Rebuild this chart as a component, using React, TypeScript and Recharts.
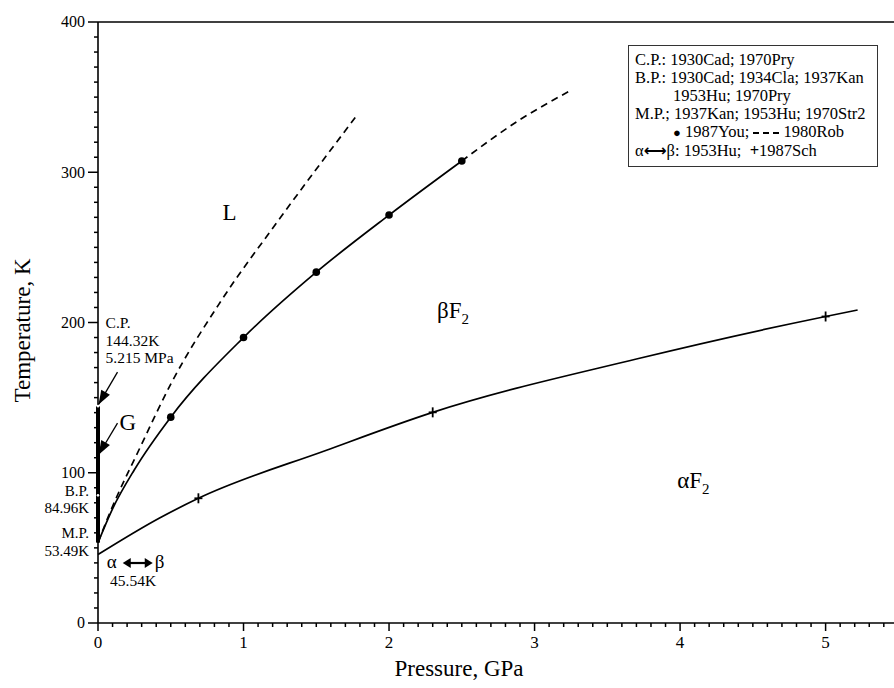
import React from 'react';
import { ComposedChart, Line, Scatter, XAxis, YAxis, ReferenceDot, Label } from 'recharts';

const FONT = '"Liberation Serif", "Times New Roman", Times, serif';

// Melting curve, 1987You (solid)
const meltPressure = [0, 0.1, 0.25, 0.5, 1.0, 1.5, 2.0, 2.5];
const meltTemp = [53.49, 76, 102, 137, 190, 233.5, 271.5, 307.5];
// Melting curve extension (dashed)
const meltExtPressure = [2.5, 2.9, 3.25];
const meltExtTemp = [307.5, 335, 354.5];
// 1980Rob (dashed)
const robPressure = [0, 0.08, 0.3, 0.5, 0.85, 1.24, 1.78];
const robTemp = [53.49, 73, 119, 159, 215, 268, 338];
// alpha <-> beta transition line
const abPressure = [0, 0.42, 0.69, 1.57, 2.3, 3.7, 5.0, 5.22];
const abTemp = [45.54, 69.7, 83, 115, 140.2, 175.7, 204, 208.3];
// 1987You points
const youPressure = [0.5, 1.0, 1.5, 2.0, 2.5];
const youTemp = [137, 190, 233.5, 271.5, 307.5];
// 1987Sch points
const schPressure = [0.69, 2.3, 5.0];
const schTemp = [83, 140.2, 204];
// Liquid-gas line (low pressure)
const vaporPressure = [0, 0];
const vaporTemp = [53.49, 144.32];
// special points on the vapour line
const markPressure = [0, 0];
const markTemp = [144.32, 84.96];
// arrows (start -> tip)
const cpArrowPressure = [0.134, 0.004];
const cpArrowTemp = [167, 145.5];
const gArrowPressure = [0.134, 0.004];
const gArrowTemp = [133, 112];

const xTicks = Array.from({ length: 55 }, (_, i) => i / 10);
const yTicks = Array.from({ length: 41 }, (_, i) => i * 10);

const zip = (ps: number[], ts: number[]) => ps.map((p, i) => ({ p, t: ts[i] }));

const BottomTick = (props: any) => {
  const { x, y, payload } = props;
  const v = payload.value;
  const major = Math.abs(v - Math.round(v)) < 1e-6;
  return (
    <g>
      <line x1={x} x2={x} y1={y} y2={y + (major ? 8 : 4)} stroke="#000" strokeWidth={1.5} />
      {major && (
        <text x={x} y={y + 25} textAnchor="middle" fontSize={17} fontFamily={FONT} fill="#000">
          {Math.round(v)}
        </text>
      )}
    </g>
  );
};

const TopTick = (props: any) => {
  const { x, y, payload } = props;
  const v = payload.value;
  const major = Math.abs(v - Math.round(v)) < 1e-6;
  return <line x1={x} x2={x} y1={y} y2={y - (major ? 9 : 5)} stroke="#000" strokeWidth={1.5} />;
};

const LeftTick = (props: any) => {
  const { x, y, payload } = props;
  const v = payload.value;
  const major = v % 100 === 0;
  return (
    <g>
      <line x1={x - (major ? 10 : 4)} x2={x} y1={y} y2={y} stroke="#000" strokeWidth={1.5} />
      {major && (
        <text x={x - 13} y={y} dy="0.33em" textAnchor="end" fontSize={16} fontFamily={FONT} fill="#000">
          {v}
        </text>
      )}
    </g>
  );
};

const ArrowHead = (props: any) => {
  const { cx, cy } = props;
  const ang = (120 * Math.PI) / 180;
  const ux = Math.cos(ang);
  const uy = Math.sin(ang);
  const L = 14;
  const W = 5;
  const bx = cx - ux * L;
  const by = cy - uy * L;
  const px = -uy;
  const py = ux;
  return (
    <polygon
      points={`${cx},${cy} ${bx + px * W},${by + py * W} ${bx - px * W},${by - py * W}`}
      fill="#000"
    />
  );
};

const PlusMark = (props: any) => {
  const { cx, cy } = props;
  return (
    <g stroke="#000" strokeWidth={1.8}>
      <line x1={cx - 4} x2={cx + 4} y1={cy} y2={cy} />
      <line x1={cx} x2={cx} y1={cy - 5} y2={cy + 5} />
    </g>
  );
};

const DotMark = (props: any) => <circle cx={props.cx} cy={props.cy} r={3.8} fill="#000" />;
const WhiteMark = (props: any) => <circle cx={props.cx} cy={props.cy} r={1.3} fill="#fff" />;

type Note = { p: number; t: number; lines: string[]; anchor: 'start' | 'end' | 'middle'; size: number };

const notes: Note[] = [
  { p: 0.052, t: 196.3, lines: ['C.P.', '144.32K', '5.215 MPa'], anchor: 'start', size: 15.5 },
  { p: 0, t: 84.6, lines: ['B.P.', '84.96K'], anchor: 'end', size: 15 },
  { p: 0, t: 56.3, lines: ['M.P.', '53.49K'], anchor: 'end', size: 15 },
  { p: 0.083, t: 24.6, lines: ['45.54K'], anchor: 'start', size: 15.5 },
];

const NoteText = (n: Note) => (props: any) => {
  const x = props.cx + (n.anchor === 'end' ? -9 : 0);
  return (
    <text x={x} y={props.cy} textAnchor={n.anchor} fontSize={n.size} fontFamily={FONT} fill="#000">
      {n.lines.map((l, i) => (
        <tspan key={i} x={x} dy={i === 0 ? 0 : 17.5}>
          {l}
        </tspan>
      ))}
    </text>
  );
};

const PhaseLabel = (label: string, sub?: string) => (props: any) => (
  <text x={props.cx} y={props.cy} fontSize={23} fontFamily={FONT} fill="#000" textAnchor="start">
    {label}
    {sub && (
      <tspan fontSize={15} dy={6}>
        {sub}
      </tspan>
    )}
  </text>
);

const AlphaBeta = (props: any) => {
  const { cx, cy } = props;
  const y0 = cy - 5;
  const a0 = cx + 16;
  const a1 = cx + 46;
  return (
    <g>
      <text x={cx} y={cy} fontSize={19} fontFamily={FONT} fill="#000">α</text>
      <line x1={a0 + 5} x2={a1 - 5} y1={y0} y2={y0} stroke="#000" strokeWidth={2.2} />
      <polygon points={`${a0},${y0} ${a0 + 8},${y0 - 5} ${a0 + 8},${y0 + 5}`} fill="#000" />
      <polygon points={`${a1},${y0} ${a1 - 8},${y0 - 5} ${a1 - 8},${y0 + 5}`} fill="#000" />
      <text x={a1 + 2} y={cy} fontSize={19} fontFamily={FONT} fill="#000">β</text>
    </g>
  );
};

const common = {
  xAxisId: 'b',
  yAxisId: 'l',
  isAnimationActive: false,
} as const;

export default function App() {
  return (
    <div style={{ position: 'absolute', left: 0, top: 0, width: 894, height: 688, background: '#fff', overflow: 'hidden' }}>
      <ComposedChart width={894} height={688} margin={{ top: 12, right: 0, bottom: 0, left: 0 }}>
        <XAxis
          xAxisId="b"
          type="number"
          dataKey="p"
          domain={[0, 5.47]}
          ticks={xTicks}
          interval={0}
          tickSize={0}
          tickMargin={0}
          tickLine={false}
          tick={<BottomTick />}
          height={65}
          axisLine={{ stroke: '#000', strokeWidth: 1.6 }}
        >
          <Label
            content={(lp: any) => {
              const vb = lp.viewBox;
              return (
                <text x={vb.x + vb.width / 2 - 37} y={vb.y + 53} textAnchor="middle" fontSize={23} fontFamily={FONT} fill="#000">
                  Pressure, GPa
                </text>
              );
            }}
          />
        </XAxis>
        <XAxis
          xAxisId="t"
          orientation="top"
          type="number"
          dataKey="p"
          domain={[0, 5.47]}
          ticks={xTicks}
          interval={0}
          tickSize={0}
          tickMargin={0}
          tickLine={false}
          tick={<TopTick />}
          height={10}
          axisLine={{ stroke: '#000', strokeWidth: 1.6 }}
        />
        <YAxis
          yAxisId="l"
          type="number"
          domain={[0, 400]}
          ticks={yTicks}
          interval={0}
          tickSize={0}
          tickMargin={0}
          tickLine={false}
          tick={<LeftTick />}
          width={98}
          axisLine={{ stroke: '#000', strokeWidth: 1.6 }}
        >
          <Label
            content={(lp: any) => {
              const vb = lp.viewBox;
              const cx = vb.x + 30;
              const cy = vb.y + vb.height / 2 + 8;
              return (
                <text transform={`translate(${cx}, ${cy}) rotate(-90)`} textAnchor="middle" fontSize={23} fontFamily={FONT} fill="#000">
                  Temperature, K
                </text>
              );
            }}
          />
        </YAxis>

        <Line {...common} data={zip(vaporPressure, vaporTemp)} dataKey="t" type="linear" stroke="#000" strokeWidth={4} dot={false} activeDot={false} />
        <Line {...common} data={zip(abPressure, abTemp)} dataKey="t" type="monotone" stroke="#000" strokeWidth={1.7} dot={false} activeDot={false} />
        <Line {...common} data={zip(meltPressure, meltTemp)} dataKey="t" type="monotone" stroke="#000" strokeWidth={1.7} dot={false} activeDot={false} />
        <Line {...common} data={zip(meltExtPressure, meltExtTemp)} dataKey="t" type="monotone" stroke="#000" strokeWidth={1.7} strokeDasharray="7 5" dot={false} activeDot={false} />
        <Line {...common} data={zip(robPressure, robTemp)} dataKey="t" type="monotone" stroke="#000" strokeWidth={1.7} strokeDasharray="7 5" dot={false} activeDot={false} />
        <Line {...common} data={zip(cpArrowPressure, cpArrowTemp)} dataKey="t" type="linear" stroke="#000" strokeWidth={1.3} dot={false} activeDot={false} />
        <Line {...common} data={zip(gArrowPressure, gArrowTemp)} dataKey="t" type="linear" stroke="#000" strokeWidth={1.3} dot={false} activeDot={false} />

        <Scatter {...common} data={zip(youPressure, youTemp)} dataKey="t" shape={<DotMark />} />
        <Scatter {...common} data={zip(schPressure, schTemp)} dataKey="t" shape={<PlusMark />} />
        <Scatter {...common} data={zip(markPressure, markTemp)} dataKey="t" shape={<WhiteMark />} />
        <Scatter {...common} data={[{ p: cpArrowPressure[1], t: cpArrowTemp[1] }, { p: gArrowPressure[1], t: gArrowTemp[1] }]} dataKey="t" shape={<ArrowHead />} />

        {notes.map((n, i) => (
          <ReferenceDot key={i} xAxisId="b" yAxisId="l" x={n.p} y={n.t} r={0} ifOverflow="visible" shape={NoteText(n)} />
        ))}
        <ReferenceDot xAxisId="b" yAxisId="l" x={0.06} y={36.6} r={0} ifOverflow="visible" shape={AlphaBeta} />
        <ReferenceDot xAxisId="b" yAxisId="l" x={0.148} y={128.5} r={0} ifOverflow="visible" shape={PhaseLabel('G')} />
        <ReferenceDot xAxisId="b" yAxisId="l" x={0.856} y={268} r={0} ifOverflow="visible" shape={PhaseLabel('L')} />
        <ReferenceDot xAxisId="b" yAxisId="l" x={2.33} y={203} r={0} ifOverflow="visible" shape={PhaseLabel('βF', '2')} />
        <ReferenceDot xAxisId="b" yAxisId="l" x={3.98} y={90} r={0} ifOverflow="visible" shape={PhaseLabel('αF', '2')} />
      </ComposedChart>

      <div
        style={{
          position: 'absolute',
          left: 628,
          top: 45,
          width: 237,
          padding: '5px 5px 6px 6px',
          border: '1.5px solid #333',
          fontFamily: FONT,
          fontSize: 16.5,
          lineHeight: '18px',
          color: '#000',
          background: '#fff',
          whiteSpace: 'pre',
        }}
      >
        <div>C.P.: 1930Cad; 1970Pry</div>
        <div>B.P.: 1930Cad; 1934Cla; 1937Kan</div>
        <div style={{ paddingLeft: 38 }}>1953Hu; 1970Pry</div>
        <div>M.P.; 1937Kan; 1953Hu; 1970Str2</div>
        <div style={{ paddingLeft: 38 }}>
          <span style={{ fontSize: 13 }}>●</span> 1987You;{' '}
          <svg width={26} height={6} style={{ verticalAlign: 'middle' }}>
            <line x1={0} x2={26} y1={3} y2={3} stroke="#000" strokeWidth={2} strokeDasharray="6 4" />
          </svg>{' '}
          1980Rob
        </div>
        <div>α<span style={{ fontFamily: '"DejaVu Sans", sans-serif', fontWeight: 'bold', fontSize: 16 }}>⟷</span>β: 1953Hu;  <b>+</b>1987Sch</div>
      </div>
    </div>
  );
}
